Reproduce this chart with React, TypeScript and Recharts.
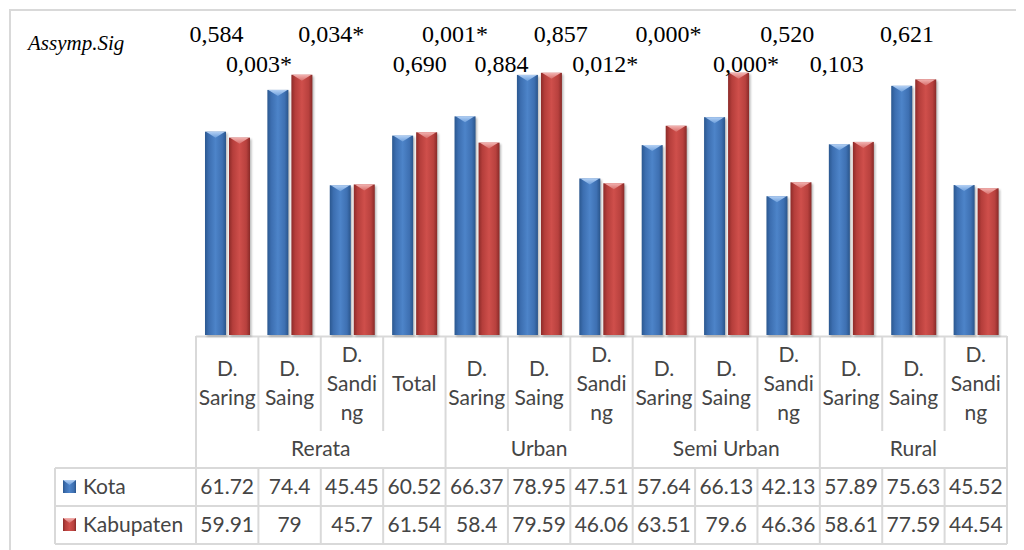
import React from "react";
import { BarChart, Bar, XAxis, YAxis, LabelList } from "recharts";

// ---- data ----
const categoryLines: string[][] = [
  ["D.", "Saring"], ["D.", "Saing"], ["D.", "Sandi", "ng"], ["Total"],
  ["D.", "Saring"], ["D.", "Saing"], ["D.", "Sandi", "ng"],
  ["D.", "Saring"], ["D.", "Saing"], ["D.", "Sandi", "ng"],
  ["D.", "Saring"], ["D.", "Saing"], ["D.", "Sandi", "ng"],
];
const groupNames = ["Rerata", "Urban", "Semi Urban", "Rural"];
const groupSpans = [4, 3, 3, 3];
const kota = [61.72, 74.4, 45.45, 60.52, 66.37, 78.95, 47.51, 57.64, 66.13, 42.13, 57.89, 75.63, 45.52];
const kabupaten = [59.91, 79, 45.7, 61.54, 58.4, 79.59, 46.06, 63.51, 79.6, 46.36, 58.61, 77.59, 44.54];
const sigValues = ["0,584", "0,003*", "0,034*", "0,690", "0,001*", "0,884", "0,857", "0,012*", "0,000*", "0,000*", "0,520", "0,103", "0,621"];
const seriesNames = ["Kota", "Kabupaten"];

const data = kota.map((v, i) => ({ id: i, kota: v, kabupaten: kabupaten[i], sig: sigValues[i] }));

// ---- layout ----
const W = 1016;
const H = 542;
const LEFT = 188;
const RIGHT = 17;
const TOP = 30.5;
const AXIS_H = 215;
const COLS = kota.length;
const COL_W = (W - LEFT - RIGHT) / COLS;
const BAR_GAP = 3;
const colX = (k: number) => LEFT + k * COL_W;

// annotation placement: horizontal nudge from the category centre and row (0 upper, 1 lower)
const sigShift = [-11, -31, -21, 5, -22, -38, -41, -59, -58, -43, -64, -77, -69];
const sigRow = [0, 1, 0, 1, 0, 1, 0, 1, 0, 1, 0, 1, 0];

const SANS = 'Lato, "Open Sans", sans-serif';
const SERIF = '"Liberation Serif", "Times New Roman", serif';
const TEXT = "#454545";
const GRID = "#d9d9d9";
const FS = 21;

function Gradients() {
  return (
    <defs>
      <linearGradient id="g-kota" x1="0" y1="0" x2="1" y2="0">
        <stop offset="0" stopColor="#2b5890" />
        <stop offset="0.18" stopColor="#3c6eb0" />
        <stop offset="0.5" stopColor="#4d84c9" />
        <stop offset="0.82" stopColor="#3e70b2" />
        <stop offset="1" stopColor="#2a558b" />
      </linearGradient>
      <linearGradient id="g-kab" x1="0" y1="0" x2="1" y2="0">
        <stop offset="0" stopColor="#8c2b29" />
        <stop offset="0.18" stopColor="#b53e3b" />
        <stop offset="0.5" stopColor="#cf4f4b" />
        <stop offset="0.82" stopColor="#b8413e" />
        <stop offset="1" stopColor="#892a28" />
      </linearGradient>
      <linearGradient id="c-kota" x1="0" y1="0" x2="0" y2="1">
        <stop offset="0" stopColor="#b3d0f4" />
        <stop offset="1" stopColor="#6d9fdc" />
      </linearGradient>
      <linearGradient id="c-kab" x1="0" y1="0" x2="0" y2="1">
        <stop offset="0" stopColor="#f2b3b1" />
        <stop offset="1" stopColor="#d86e6b" />
      </linearGradient>
      <filter id="bar-shadow" x="-30%" y="-5%" width="160%" height="110%">
        <feGaussianBlur stdDeviation="1.2" />
      </filter>
    </defs>
  );
}

function bevelBar(id: string) {
  return (props: any) => {
    const { x, y, width, height } = props;
    if (!(height > 0)) return <g />;
    const cap = Math.min(6, height);
    return (
      <g>
        <rect x={x + 1.5} y={y + 1.5} width={width} height={height} fill="#000" opacity={0.28} filter="url(#bar-shadow)" />
        <rect x={x} y={y} width={width} height={height} fill={`url(#g-${id})`} />
        <polygon points={`${x + 1},${y} ${x + width - 1},${y} ${x + width / 2},${y + cap}`} fill={`url(#c-${id})`} />
      </g>
    );
  };
}

function SigLabel(props: any) {
  const { x, width, index } = props;
  const cx = Number(x) + Number(width) + BAR_GAP / 2;
  return (
    <text
      x={cx + sigShift[index]}
      y={sigRow[index] ? 64 : 34}
      textAnchor="middle"
      fontFamily={SERIF}
      fontSize={24}
      fill="#000"
    >
      {sigValues[index]}
    </text>
  );
}

function TableTick(props: any) {
  const { x, index } = props;
  const lines = categoryLines[index];
  const centre = 375.5;
  const lh = 29;
  const start = centre - ((lines.length - 1) * lh) / 2;
  return (
    <g fontFamily={SANS} fontSize={FS} fill={TEXT} textAnchor="middle">
      {lines.map((t, j) => (
        <text key={j} x={x} y={start + j * lh} dy="0.35em">{t}</text>
      ))}
      <text x={x} y={479} dy="0.35em">{String(kota[index])}</text>
      <text x={x} y={517} dy="0.35em">{String(kabupaten[index])}</text>
    </g>
  );
}

function TableFrame() {
  const groupEdges: number[] = [0];
  groupSpans.forEach((s) => groupEdges.push(groupEdges[groupEdges.length - 1] + s));
  const inner: number[] = [];
  for (let k = 1; k < COLS; k++) if (!groupEdges.includes(k)) inner.push(k);
  const right = colX(COLS);
  return (
    <svg width={W} height={H} style={{ position: "absolute", left: 0, top: 0, pointerEvents: "none" }}>
      <Gradients />
      {/* chart border */}
      <line x1={1} y1={2} x2={W} y2={2} stroke={GRID} strokeWidth={2} />
      <line x1={2} y1={1} x2={2} y2={H} stroke={GRID} strokeWidth={2} />
      <text x={20} y={42} fontFamily={SERIF} fontStyle="italic" fontSize={21} fill="#000">Assymp.Sig</text>

      <g stroke={GRID} strokeWidth={2}>
        <line x1={colX(0)} y1={328.5} x2={right} y2={328.5} />
        {inner.map((k) => (
          <line key={"c" + k} x1={colX(k)} y1={328} x2={colX(k)} y2={423} />
        ))}
        {inner.map((k) => (
          <line key={"d" + k} x1={colX(k)} y1={460} x2={colX(k)} y2={536} />
        ))}
        {groupEdges.map((k) => (
          <line key={"g" + k} x1={colX(k)} y1={328} x2={colX(k)} y2={536} />
        ))}
        <line x1={47} y1={460} x2={47} y2={536} />
        {[460, 498, 536].map((yy) => (
          <line key={yy} x1={47} y1={yy} x2={right} y2={yy} />
        ))}
      </g>

      <g fontFamily={SANS} fontSize={FS} fill={TEXT}>
        {groupNames.map((g, i) => {
          const a = colX(groupEdges[i]);
          const b = colX(groupEdges[i + 1]);
          return (
            <text key={g} x={(a + b) / 2} y={441} dy="0.35em" textAnchor="middle">{g}</text>
          );
        })}
        {seriesNames.map((n, i) => {
          const cy = i === 0 ? 479 : 517;
          const id = i === 0 ? "kota" : "kab";
          return (
            <g key={n}>
              <rect x={55} y={cy - 7} width={13} height={13} fill={`url(#g-${id})`} />
              <polygon points={`${55},${cy - 7} ${68},${cy - 7} ${61.5},${cy - 2}`} fill={`url(#c-${id})`} />
              <text x={75} y={cy} dy="0.35em">{n}</text>
            </g>
          );
        })}
      </g>
    </svg>
  );
}

export default function App() {
  return (
    <div style={{ position: "relative", width: W, height: H, background: "#fff" }}>
      <TableFrame />
      <div style={{ position: "absolute", left: 0, top: 0 }}>
        <BarChart
          width={W}
          height={H}
          data={data}
          margin={{ top: TOP, right: RIGHT, bottom: 0, left: LEFT }}
          barCategoryGap={9}
          barGap={BAR_GAP}
        >
          <XAxis
            dataKey="id"
            height={AXIS_H}
            axisLine={false}
            tickLine={false}
            interval={0}
            tick={(p: any) => <TableTick {...p} />}
          />
          <YAxis hide domain={[0, 90]} />
          <Bar dataKey="kota" isAnimationActive={false} shape={bevelBar("kota")}>
            <LabelList dataKey="sig" content={(p: any) => <SigLabel {...p} />} />
          </Bar>
          <Bar dataKey="kabupaten" isAnimationActive={false} shape={bevelBar("kab")} />
        </BarChart>
      </div>
    </div>
  );
}
